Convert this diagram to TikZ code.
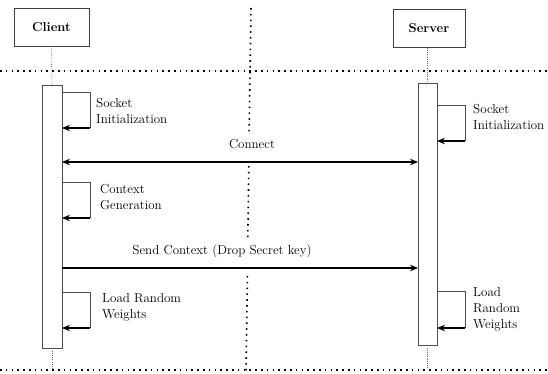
\documentclass[tikz,border=0pt]{standalone}
\usetikzlibrary{arrows.meta}
\begin{document}
\begin{tikzpicture}[x=1pt,y=-1pt,
  bigdots/.style={line width=1.6pt,dash pattern=on 1.6pt off 4.2pt},
  lifeline/.style={line width=0.6pt,black!60,dash pattern=on 0.8pt off 1.4pt},
  actor/.style={draw=black!75,line width=0.8pt,minimum width=75pt,minimum height=38pt,font=\fontsize{13}{16}\selectfont\bfseries},
  actbar/.style={draw=black!70,line width=0.8pt,fill=white},
  lbl/.style={anchor=north west,inner sep=0pt,align=left,font=\fontsize{13}{16}\selectfont},
  msglbl/.style={inner sep=0pt,font=\fontsize{13}{16}\selectfont},
  msg/.style={line width=1.3pt,-{Stealth[length=8pt,width=6.5pt]}},
  dmsg/.style={line width=1.3pt,{Stealth[length=8pt,width=6.5pt]}-{Stealth[length=8pt,width=6.5pt]}},
  looptop/.style={line width=0.8pt,black!70},
  loopret/.style={line width=1.3pt,-{Stealth[length=8pt,width=6.5pt]}}]
\useasboundingbox (0,0) rectangle (548,374);
% separators
\draw[bigdots] (0,71) -- (548,71);
\draw[bigdots] (0,370) -- (548,370);
\draw[bigdots] (251,8) -- (249.1,134) (248.8,166) -- (247.8,238) (247.4,276) -- (246,372);
% actors
\node[actor] (client) at (51.5,27) {Client};
\node[actor,minimum width=72pt] (server) at (429,28.5) {Server};
% activation bars
\node[actbar,minimum width=20pt,minimum height=263pt,inner sep=0pt] (cbar) at (52,216.5) {};
\node[actbar,minimum width=19pt,minimum height=262pt,inner sep=0pt] (sbar) at (427.5,214) {};
% lifelines
\draw[lifeline] (client.south) -- (cbar.north);
\draw[lifeline] (server.south -| sbar.north) -- (sbar.north);
\draw[lifeline] (cbar.south) -- ++(0,21);
\draw[lifeline] (sbar.south) -- ++(0,24);
% client self loops
\coordinate (c1a) at (62,92); \coordinate (c1b) at (90,92); \coordinate (c1c) at (90,128); \coordinate (c1d) at (62,128);
\draw[looptop] (c1a) -- (c1b) -- (c1c);
\draw[loopret] (c1c) -- (c1d);
\node[lbl] (t1) at (96,98) {Socket\\Initialization};
\coordinate (c2a) at (62,182); \coordinate (c2b) at (90,182); \coordinate (c2c) at (90,218); \coordinate (c2d) at (62,218);
\draw[looptop] (c2a) -- (c2b) -- (c2c);
\draw[loopret] (c2c) -- (c2d);
\node[lbl] (t2) at (100,184.5) {Context\\Generation};
\coordinate (c3a) at (62,292); \coordinate (c3b) at (90,292); \coordinate (c3c) at (90,328); \coordinate (c3d) at (62,328);
\draw[looptop] (c3a) -- (c3b) -- (c3c);
\draw[loopret] (c3c) -- (c3d);
\node[lbl] (t3) at (102,293.5) {Load Random\\Weights};
% server self loops
\coordinate (s1a) at (437,105); \coordinate (s1b) at (465,105); \coordinate (s1c) at (465,141); \coordinate (s1d) at (437,141);
\draw[looptop] (s1a) -- (s1b) -- (s1c);
\draw[loopret] (s1c) -- (s1d);
\node[lbl] (t4) at (473,104) {Socket\\Initialization};
\coordinate (s2a) at (437,291); \coordinate (s2b) at (465,291); \coordinate (s2c) at (465,328); \coordinate (s2d) at (437,328);
\draw[looptop] (s2a) -- (s2b) -- (s2c);
\draw[loopret] (s2c) -- (s2d);
\node[lbl] (t5) at (473,287.5) {Load\\Random\\Weights};
% messages
\coordinate (m1l) at (62,162); \coordinate (m1r) at (418,162);
\draw[dmsg] (m1l) -- (m1r);
\node[msglbl] (l1) at (252,144) {Connect};
\coordinate (m2l) at (62,268); \coordinate (m2r) at (418,268);
\draw[msg] (m2l) -- (m2r);
\node[msglbl] (l2) at (222,251) {Send Context (Drop Secret key)};
\end{tikzpicture}
\end{document}
